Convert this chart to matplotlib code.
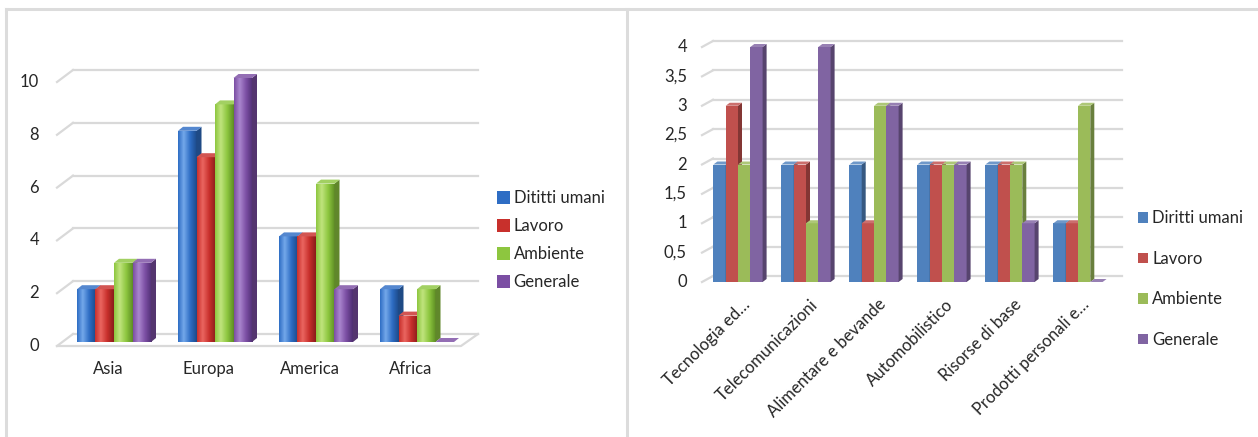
import numpy as np
import matplotlib.pyplot as plt
from matplotlib.patches import Polygon
from matplotlib.colors import LinearSegmentedColormap, to_rgb

plt.rcParams['font.family'] = ['Lato', 'DejaVu Sans']

W, H = 1258, 437

# Grafico 1: iniziative per continente
continenti = ['Asia', 'Europa', 'America', 'Africa']
serie_cont = ['Dititti umani', 'Lavoro', 'Ambiente', 'Generale']
diritti_cont = [2, 8, 4, 2]
lavoro_cont = [2, 7, 4, 1]
ambiente_cont = [3, 9, 6, 2]
generale_cont = [3, 10, 2, 0]
tick_cont = [0, 2, 4, 6, 8, 10]

# Grafico 2: iniziative per settore
settori = ['Tecnologia ed…', 'Telecomunicazioni', 'Alimentare e bevande',
           'Automobilistico', 'Risorse di base', 'Prodotti personali e…']
serie_sett = ['Diritti umani', 'Lavoro', 'Ambiente', 'Generale']
diritti_sett = [2, 2, 2, 2, 2, 1]
lavoro_sett = [3, 2, 1, 2, 2, 1]
ambiente_sett = [2, 1, 3, 2, 2, 3]
generale_sett = [4, 4, 3, 2, 1, 0]
tick_sett = [0, 0.5, 1, 1.5, 2, 2.5, 3, 3.5, 4]

TXT = '#262626'
GRID = '#D9D9D9'
FS = 12

fig = plt.figure(figsize=(W / 100, H / 100), dpi=100)
fig.patch.set_facecolor('white')

# cornici dei due pannelli
for xs, ys in [((6, W), (9, 9)), ((6, 6), (9, H)), ((627, 627), (9, H))]:
    fig.add_artist(plt.Line2D([x / W for x in xs], [1 - y / H for y in ys],
                              color='#DCDCDC', lw=2.2, transform=fig.transFigure))


def make_axes(l, r, t, b, x0, xs, y0, ys):
    # assi posizionati in pixel; 1 unita' = xs px in x, ys px in y
    ax = fig.add_axes([l / W, 1 - b / H, (r - l) / W, (b - t) / H])
    ax.axis('off')
    lims = ((l - x0) / xs, (r - x0) / xs), ((y0 - b) / ys, (y0 - t) / ys)
    return ax, lims


def shade(c, f):
    c = np.array(to_rgb(c))
    return tuple(c * f) if f < 1 else tuple(c + (1 - c) * (f - 1))


def bars_3d(ax, x, vals, w, color, ddx, ddy, z, grad=None):
    cont = ax.bar(x, vals, w, color=color, align='center', zorder=z, lw=0)
    for rect, v in zip(cont, vals):
        x0 = rect.get_x()
        x1 = x0 + rect.get_width()
        if grad is not None and v > 0:
            img = ax.imshow(np.linspace(0, 1, 64)[None, :], cmap=grad, aspect='auto',
                            extent=(x0, x1, 0, v), zorder=z, interpolation='bilinear')
            img.set_clip_path(rect)
        side = Polygon([(x1, 0), (x1 + ddx, ddy), (x1 + ddx, v + ddy), (x1, v)],
                       closed=True, fc=shade(color, 0.68), lw=0, zorder=z)
        top = Polygon([(x0, v), (x0 + ddx, v + ddy), (x1 + ddx, v + ddy), (x1, v)],
                      closed=True, fc=shade(color, 1.18), lw=0, zorder=z)
        ax.add_patch(side)
        ax.add_patch(top)
    return cont


def group_bars(ax, n, series, colors, w, ddx, ddy, grads=None):
    conts = []
    for i in range(n):
        for k, vals in enumerate(series):
            # ordine di disegno da sinistra a destra: le facce laterali restano dietro
            xk = i + (k - 1.5) * w
            g = grads[k] if grads else None
            c = bars_3d(ax, [xk], [vals[i]], w, colors[k], ddx, ddy, 3 + i * 4 + k, g)
            if i == 0:
                conts.append(c)
    return conts


# ---------- pannello sinistro ----------
xs1, ys1 = 101, 26.4
ax1, (xl1, yl1) = make_axes(40, 490, 55, 362, 114, xs1, 342, ys1)
fy, by = -4 / ys1, 8 / ys1
gx0, gx1, fx0 = (73 - 114) / xs1, (478 - 114) / xs1, (57 - 114) / xs1
for v in tick_cont:
    ax1.plot([fx0, gx0], [v + fy, v + by], color=GRID, lw=1.6, zorder=1)
    ax1.plot([gx0, gx1], [v + by, v + by], color=GRID, lw=1.6, zorder=1)
    ax1.text((39 - 114) / xs1, v + fy, str(v), ha='right', va='center',
             fontsize=FS, color=TXT)
ffx = (461 - 114) / xs1
ax1.plot([fx0, ffx, gx1], [fy, fy, by], color=GRID, lw=1.6, zorder=1)

cols1 = ['#2E6DC4', '#C8302C', '#8DC63F', '#7B4EA3']
lights1 = ['#74A8EA', '#EA6660', '#C0E47E', '#AA86CE']
darks1 = ['#1C4A8A', '#8A1C1A', '#5E8E24', '#4F2F73']
grads1 = [LinearSegmentedColormap.from_list('g%d' % k, [(0, cols1[k]), (0.3, lights1[k]),
                                                        (0.65, cols1[k]), (1, darks1[k])])
          for k in range(4)]
w1 = 18.5 / xs1
h1 = group_bars(ax1, len(continenti),
                [diritti_cont, lavoro_cont, ambiente_cont, generale_cont],
                cols1, w1, 5 / xs1, 4 / ys1, grads1)
for i, name in enumerate(continenti):
    ax1.text(i - 6 / xs1, (342 - 369) / ys1, name, ha='center', va='center',
             fontsize=FS, color=TXT)
ax1.set_xlim(xl1)
ax1.set_ylim(yl1)
fig.legend(h1, serie_cont, loc='center left', bbox_to_anchor=(497 / W, 1 - 240 / H),
           frameon=False, fontsize=FS, handlelength=0.8, handleheight=0.8,
           handletextpad=0.2, labelspacing=0.72, borderpad=0, borderaxespad=0,
           labelcolor=TXT)

# ---------- pannello destro ----------
xs2, ys2 = 68, 58.75
ax2, (xl2, yl2) = make_axes(695, 1130, 35, 290, 738, xs2, 282, ys2)
by2 = 6 / ys2
gx0, gx1, fx0 = (713 - 738) / xs2, (1122 - 738) / xs2, (702 - 738) / xs2
for v in tick_sett:
    ax2.plot([fx0, gx0], [v, v + by2], color=GRID, lw=1.6, zorder=1)
    ax2.plot([gx0, gx1], [v + by2, v + by2], color=GRID, lw=1.6, zorder=1)
    lab = ('%g' % v).replace('.', ',')
    ax2.text((687 - 738) / xs2, v, lab, ha='right', va='center',
             fontsize=FS, color=TXT)

cols2 = ['#4F81BD', '#C0504D', '#9BBB59', '#8064A2']
w2 = 12.3 / xs2
h2 = group_bars(ax2, len(settori),
                [diritti_sett, lavoro_sett, ambiente_sett, generale_sett],
                cols2, w2, 4 / xs2, 3 / ys2)
for i, name in enumerate(settori):
    ax2.annotate(name, xy=(i, 0), xytext=(9 * 0.72, -20 * 0.72), textcoords='offset points',
                 rotation=45, rotation_mode='anchor', ha='right', va='center',
                 fontsize=FS, color=TXT, annotation_clip=False)
ax2.set_xlim(xl2)
ax2.set_ylim(yl2)
fig.legend(h2, serie_sett, loc='center left', bbox_to_anchor=(1138 / W, 1 - 279 / H),
           frameon=False, fontsize=FS, handlelength=0.6, handleheight=0.6,
           handletextpad=0.25, labelspacing=1.47, borderpad=0, borderaxespad=0,
           labelcolor=TXT)

fig.savefig('out.png', dpi=100)
